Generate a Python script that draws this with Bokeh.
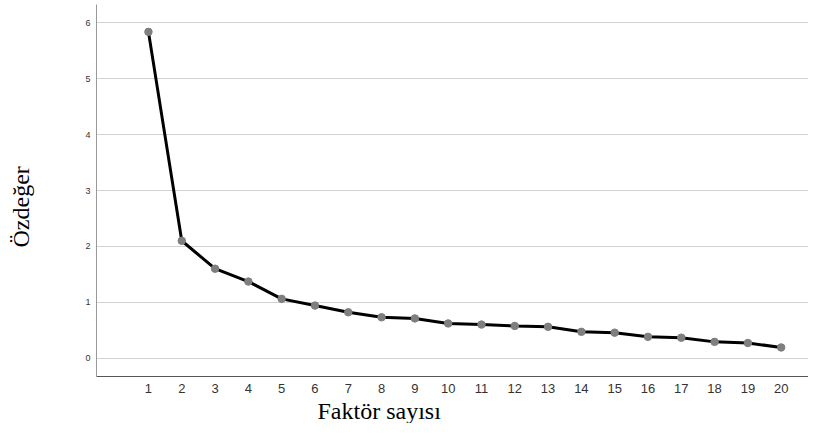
from bokeh.plotting import figure
from bokeh.models import Range1d, FixedTicker, Title
from bokeh.embed import file_html
from bokeh.resources import INLINE

factors = list(range(1, 21))
eigenvalues = [5.84, 2.10, 1.60, 1.37, 1.06, 0.94, 0.82, 0.73, 0.71, 0.62,
               0.60, 0.575, 0.56, 0.47, 0.455, 0.38, 0.365, 0.29, 0.27, 0.19]
y_ticks = [0, 1, 2, 3, 4, 5, 6]
x_label = "Faktör sayısı"
y_label = "Özdeğer"

p = figure(width=808, height=423, output_backend="svg", toolbar_location=None,
           x_range=Range1d(-0.56, 20.82), y_range=Range1d(-0.33, 6.33),
           min_border_left=96, min_border_right=0, min_border_top=4, min_border_bottom=46)
p.outline_line_color = None
p.background_fill_color = "white"
p.border_fill_color = "white"

p.line(factors, eigenvalues, line_color="black", line_width=3)
p.scatter(factors, eigenvalues, size=7.5, fill_color="#7f7f7f", line_color="#7f7f7f")

p.xaxis.ticker = FixedTicker(ticks=factors)
p.yaxis.ticker = FixedTicker(ticks=y_ticks)
p.xgrid.grid_line_color = None
p.ygrid.grid_line_color = "#d2d2d2"
p.ygrid.grid_line_width = 1

for ax in (p.xaxis, p.yaxis):
    ax.major_tick_line_color = None
    ax.minor_tick_line_color = None
    ax.major_tick_out = 0
    ax.major_tick_in = 0
    ax.minor_tick_out = 0
    ax.minor_tick_in = 0
    ax.major_label_text_font = "Liberation Sans"
    ax.major_label_text_color = "#333333"
p.xaxis.axis_line_color = "#555555"
p.yaxis.axis_line_color = "#999999"
p.xaxis.major_label_text_font_size = "13px"
p.yaxis.major_label_text_font_size = "9px"
p.xaxis.major_label_standoff = 7
p.yaxis.major_label_standoff = 6

p.add_layout(Title(text=x_label, align="left", offset=221, text_font="Liberation Serif",
                   text_font_size="24px", text_font_style="normal", text_color="black",
                   standoff=0), "below")
# spacer panel between the y axis and its label
p.add_layout(Title(text=" ", text_font_size="1px", standoff=46), "left")
p.add_layout(Title(text=y_label, align="left", offset=129, text_font="Liberation Serif",
                   text_font_size="24px", text_font_style="normal", text_color="black",
                   standoff=0), "left")

open("out.html", "w").write(file_html(p, INLINE))
